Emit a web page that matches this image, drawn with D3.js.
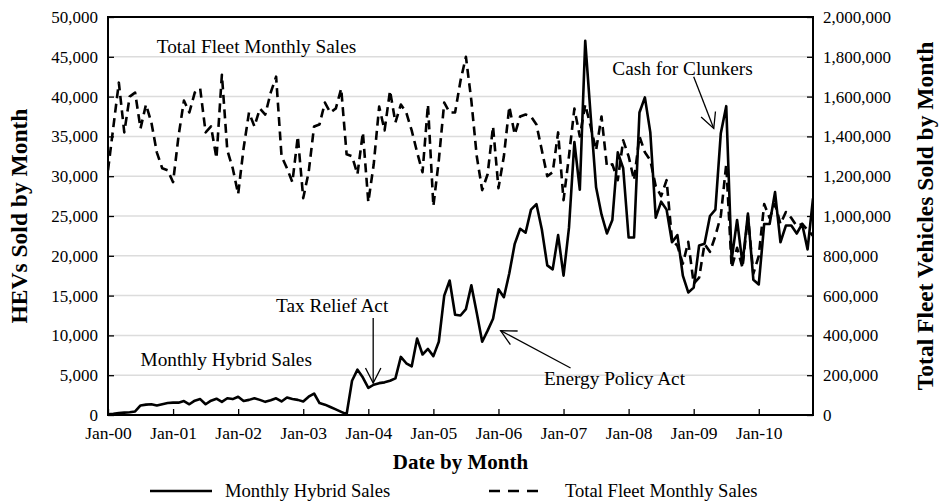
<!DOCTYPE html>
<html><head><meta charset="utf-8">
<script src="https://cdn.jsdelivr.net/npm/d3@7"></script>
<style>
body{margin:0;background:#fff}
svg{display:block}
text{font-family:"Liberation Serif","Times New Roman",serif;fill:#000}
</style>
</head><body>
<svg id="chart" width="940" height="504"></svg>
<script>
// ---- data (monthly, Jan-2000 .. Nov-2010) ----
const tickLabels = ["Jan-00","Jan-01","Jan-02","Jan-03","Jan-04","Jan-05","Jan-06","Jan-07","Jan-08","Jan-09","Jan-10"];
const hevSales = [
  80,150,250,300,350,450,1200,1300,1350,1200,1350,1500,
  1550,1550,1750,1350,1800,2000,1350,1800,2050,1650,2100,2000,
  2300,1750,1900,2100,1900,1650,1850,2100,1700,2200,2000,1900,
  1700,2300,2700,1500,1300,1000,700,400,100,4300,5700,4700,
  3400,3800,4000,4100,4300,4600,7300,6500,6100,9600,7600,8300,
  7400,9200,15000,16900,12600,12500,13300,16300,12800,9200,10600,12100,
  15800,14800,17800,21500,23400,22900,25800,26500,23300,18800,18300,22600,
  17500,23500,34300,28300,47000,37600,28600,25200,22800,24500,33000,31000,
  22300,22300,38000,39900,35500,24800,26800,25800,21700,22600,17500,15400,
  16000,21300,21500,25000,25800,35400,38800,19500,24500,19000,25300,17000,
  16400,24000,24000,28000,21700,23800,23800,22800,24000,20800,27200
];
const fleetSales = [
  1230000,1450000,1670000,1420000,1600000,1620000,1440000,1560000,1470000,1320000,1240000,1230000,
  1170000,1400000,1580000,1520000,1620000,1640000,1420000,1450000,1290000,1710000,1330000,1240000,
  1110000,1340000,1520000,1450000,1540000,1510000,1620000,1700000,1300000,1240000,1170000,1400000,
  1090000,1220000,1450000,1460000,1570000,1520000,1540000,1640000,1310000,1300000,1210000,1420000,
  1070000,1260000,1550000,1430000,1630000,1470000,1560000,1520000,1430000,1320000,1220000,1560000,
  1050000,1280000,1570000,1520000,1520000,1680000,1800000,1580000,1300000,1130000,1210000,1450000,
  1140000,1300000,1550000,1410000,1500000,1510000,1500000,1460000,1330000,1200000,1220000,1420000,
  1080000,1300000,1540000,1400000,1560000,1450000,1330000,1500000,1250000,1260000,1180000,1380000,
  1300000,1180000,1400000,1320000,1280000,1150000,1100000,1180000,880000,850000,760000,870000,
  660000,690000,860000,820000,900000,1000000,1260000,740000,840000,740000,1000000,710000,
  800000,1060000,990000,1060000,960000,1020000,990000,950000,960000,930000,900000
];
const seriesNames = ["Monthly Hybrid Sales","Total Fleet Monthly Sales"];
const leftTicks = d3.range(0, 50001, 5000);
const rightTicks = d3.range(0, 2000001, 200000);

// ---- layout ----
const svg = d3.select("#chart");
const P = {l:108, r:813, t:17, b:415};
const x = d3.scaleLinear().domain([0,130]).range([P.l, P.r]);
const yL = d3.scaleLinear().domain([0,50000]).range([P.b, P.t]);
const yR = d3.scaleLinear().domain([0,2000000]).range([P.b, P.t]);
const fmt = d3.format(",");

svg.append("defs").append("clipPath").attr("id","plotclip")
  .append("rect").attr("x",P.l).attr("y",P.t).attr("width",P.r-P.l).attr("height",P.b-P.t);

// gridlines
svg.append("g").selectAll("line").data(leftTicks.slice(1,-1)).join("line")
  .attr("x1",P.l).attr("x2",P.r).attr("y1",d=>yL(d)).attr("y2",d=>yL(d))
  .attr("stroke","#dcdcdc").attr("stroke-width",1.5);

// axes
const gL = svg.append("g").attr("transform",`translate(${P.l},0)`)
  .call(d3.axisLeft(yL).tickValues(leftTicks).tickFormat(fmt).tickSize(-6).tickPadding(10));
const gR = svg.append("g").attr("transform",`translate(${P.r},0)`)
  .call(d3.axisRight(yR).tickValues(rightTicks).tickFormat(fmt).tickSize(-6).tickPadding(10));
const tickIdx = tickLabels.map((d,i)=>i*12);
const gB = svg.append("g").attr("transform",`translate(0,${P.b})`)
  .call(d3.axisBottom(x).tickValues(tickIdx).tickFormat((d,i)=>tickLabels[i]).tickSize(-6).tickPadding(12));
[gL,gR,gB].forEach(g=>{
  g.select(".domain").remove();
  g.selectAll(".tick line").attr("stroke","#000").attr("stroke-width",1.3);
  g.selectAll(".tick text").attr("font-size",17).attr("font-family","Liberation Serif");
});
gB.selectAll(".tick text").attr("font-size",17.5);

// series
const lineL = d3.line().x((d,i)=>x(i)).y(d=>yL(d));
const lineR = d3.line().x((d,i)=>x(i)).y(d=>yR(d));
const plot = svg.append("g").attr("clip-path","url(#plotclip)");
plot.append("path").datum(fleetSales).attr("d",lineR)
  .attr("fill","none").attr("stroke","#000").attr("stroke-width",2.6)
  .attr("stroke-dasharray","9,5.5").attr("stroke-linejoin","round");
plot.append("path").datum(hevSales).attr("d",lineL)
  .attr("fill","none").attr("stroke","#000").attr("stroke-width",2.6)
  .attr("stroke-linejoin","round");

// border
svg.append("rect").attr("x",P.l).attr("y",P.t).attr("width",P.r-P.l).attr("height",P.b-P.t)
  .attr("fill","none").attr("stroke","#000").attr("stroke-width",2);

// axis titles
svg.append("text").attr("transform",`translate(27,${(P.t+P.b)/2}) rotate(-90)`)
  .attr("text-anchor","middle").attr("font-size",23.5).attr("font-weight","bold")
  .text("HEVs Sold by Month");
svg.append("text").attr("transform",`translate(933,${(P.t+P.b)/2}) rotate(-90)`)
  .attr("text-anchor","middle").attr("font-size",23.5).attr("font-weight","bold")
  .text("Total Fleet Vehicles Sold by Month");
svg.append("text").attr("x",(P.l+P.r)/2).attr("y",469)
  .attr("text-anchor","middle").attr("font-size",21).attr("font-weight","bold")
  .text("Date by Month");

// annotations
const AF = 19.3;
function ann(txt, xx, yy){
  svg.append("text").attr("x",xx).attr("y",yy).attr("font-size",AF).text(txt);
}
function arrow(x1,y1,x2,y2){ // tail (x1,y1) -> tip (x2,y2)
  const a = Math.atan2(y1-y2, x1-x2), L = 17, h = 0.47;
  const g = svg.append("g").attr("stroke","#000").attr("stroke-width",1.3).attr("fill","none");
  g.append("line").attr("x1",x1).attr("y1",y1).attr("x2",x2).attr("y2",y2);
  g.append("polyline").attr("points",[
    [x2+L*Math.cos(a-h), y2+L*Math.sin(a-h)],[x2,y2],[x2+L*Math.cos(a+h), y2+L*Math.sin(a+h)]
  ].map(p=>p.join(",")).join(" "));
}
ann("Total Fleet Monthly Sales", x(9), 53);
ann("Cash for Clunkers", x(93), 75);
arrow(x(108), yL(42500), x(111.7), yL(36000));
ann("Tax Relief Act", x(31), 312);
arrow(x(48.9), yL(12200), x(48.9), yL(4000));
ann("Monthly Hybrid Sales", x(6), 366);
ann("Energy Policy Act", x(80.4), 385);
arrow(x(85.3), yL(5900), x(72.4), yL(10600));

// legend
const LF = 18.6;
const lg = svg.append("g");
lg.append("line").attr("x1",150).attr("x2",212).attr("y1",491).attr("y2",491)
  .attr("stroke","#000").attr("stroke-width",2.6);
lg.append("text").attr("x",225).attr("y",497).attr("font-size",LF).text(seriesNames[0]);
lg.append("line").attr("x1",489).attr("x2",543).attr("y1",491).attr("y2",491)
  .attr("stroke","#000").attr("stroke-width",2.6).attr("stroke-dasharray","11,8");
lg.append("text").attr("x",565).attr("y",497).attr("font-size",LF).text(seriesNames[1]);
</script>
</body></html>
